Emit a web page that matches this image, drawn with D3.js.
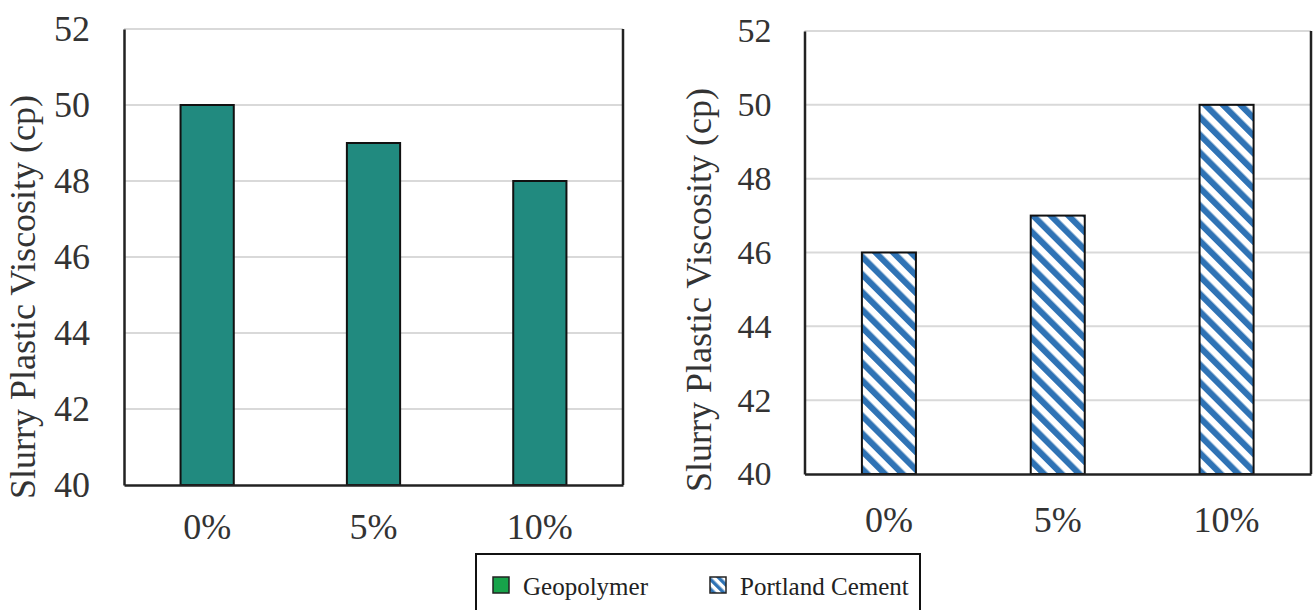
<!DOCTYPE html>
<html>
<head>
<meta charset="utf-8">
<script src="https://cdn.jsdelivr.net/npm/d3@7"></script>
<style>
  html, body { margin: 0; padding: 0; background: #fff; }
  svg { display: block; }
</style>
</head>
<body>
<svg id="chart" width="1314" height="610"></svg>
<script>
const categories = ["0%", "5%", "10%"];
const geopolymerValues = [50, 49, 48];
const portlandValues = [46, 47, 50];
const yTicks = [40, 42, 44, 46, 48, 50, 52];
const yTitle = "Slurry Plastic Viscosity (cp)";
const legendLabels = ["Geopolymer", "Portland Cement"];

const FONT = "Liberation Serif";

const svg = d3.select("#chart");
const defs = svg.append("defs");
const hatch = defs.append("pattern")
  .attr("id", "hatch")
  .attr("patternUnits", "userSpaceOnUse")
  .attr("width", 12.5).attr("height", 12.5)
  .attr("patternTransform", "rotate(-45)");
hatch.append("rect").attr("width", 12.5).attr("height", 12.5).attr("fill", "#fff");
hatch.append("rect").attr("x", 0).attr("width", 6.2).attr("height", 12.5).attr("fill", "#2f73b5");

const legHatch = defs.append("pattern")
  .attr("id", "hatchLegend")
  .attr("patternUnits", "userSpaceOnUse")
  .attr("width", 7).attr("height", 7)
  .attr("patternTransform", "rotate(-45)");
legHatch.append("rect").attr("width", 7).attr("height", 7).attr("fill", "#fff");
legHatch.append("rect").attr("x", 0).attr("width", 3.5).attr("height", 7).attr("fill", "#2f73b5");

function panel(cfg) {
  const x = d3.scaleBand().domain(categories).range([cfg.x0, cfg.x1])
    .paddingInner(0.68).paddingOuter(0.34);
  const y = d3.scaleLinear().domain([40, 52]).range([cfg.yb, cfg.yt]);
  const g = svg.append("g");

  g.append("g").selectAll("line").data(yTicks.filter(t => t > 40)).join("line")
    .attr("x1", cfg.x0).attr("x2", cfg.x1)
    .attr("y1", d => y(d)).attr("y2", d => y(d))
    .attr("stroke", "#d9d9d9").attr("stroke-width", 2);

  g.append("g").selectAll("rect").data(cfg.values).join("rect")
    .attr("x", (d, i) => x(categories[i]))
    .attr("width", x.bandwidth())
    .attr("y", d => y(d))
    .attr("height", d => y(40) - y(d))
    .attr("fill", cfg.fill)
    .attr("stroke", "#111").attr("stroke-width", 2);

  const yAxis = d3.axisLeft(y).tickValues(yTicks).tickSize(0).tickPadding(cfg.tickPad)
    .tickFormat(d3.format("d"));
  const ya = g.append("g").attr("transform", `translate(${cfg.x0},0)`).call(yAxis);
  ya.attr("font-family", FONT).attr("font-size", cfg.yFont);
  ya.select(".domain").attr("stroke", "#222").attr("stroke-width", 2.5);
  ya.selectAll("text").attr("fill", "#333");

  const xAxis = d3.axisBottom(x).tickSize(0).tickPadding(cfg.xPad);
  const xa = g.append("g").attr("transform", `translate(0,${cfg.yb})`).call(xAxis);
  xa.attr("font-family", FONT).attr("font-size", 36);
  xa.select(".domain").attr("stroke", "#222").attr("stroke-width", 2.5);
  xa.selectAll("text").attr("fill", "#333");

  g.append("line").attr("x1", cfg.x1).attr("x2", cfg.x1)
    .attr("y1", cfg.yt).attr("y2", cfg.yb)
    .attr("stroke", "#222").attr("stroke-width", 2.5);

  g.append("text")
    .attr("transform", `translate(${cfg.titleX},${cfg.titleY}) rotate(-90)`)
    .attr("text-anchor", "middle")
    .attr("font-family", FONT).attr("font-size", 36)
    .attr("fill", "#333")
    .text(yTitle);
}

panel({ x0: 124, x1: 623, yt: 29, yb: 485, values: geopolymerValues, fill: "#218a7f",
        tickPad: 34, xPad: 28, yFont: 36, titleX: 35, titleY: 297 });
panel({ x0: 804.5, x1: 1311, yt: 31, yb: 474, values: portlandValues, fill: "url(#hatch)",
        tickPad: 33, xPad: 32, yFont: 34, titleX: 711, titleY: 290 });

const leg = svg.append("g");
leg.append("rect").attr("x", 476).attr("y", 554).attr("width", 444).attr("height", 70)
  .attr("fill", "#fff").attr("stroke", "#111").attr("stroke-width", 2);
const legItems = [
  { label: legendLabels[0], fill: "#17a34a", mx: 493, tx: 523 },
  { label: legendLabels[1], fill: "url(#hatchLegend)", mx: 710, tx: 740 }
];
legItems.forEach(it => {
  leg.append("rect").attr("x", it.mx).attr("y", 577).attr("width", 16).attr("height", 16)
    .attr("fill", it.fill).attr("stroke", "#222").attr("stroke-width", 1.5);
  leg.append("text").attr("x", it.tx).attr("y", 595)
    .attr("font-family", FONT).attr("font-size", 25)
    .attr("fill", "#222").text(it.label);
});
</script>
</body>
</html>
